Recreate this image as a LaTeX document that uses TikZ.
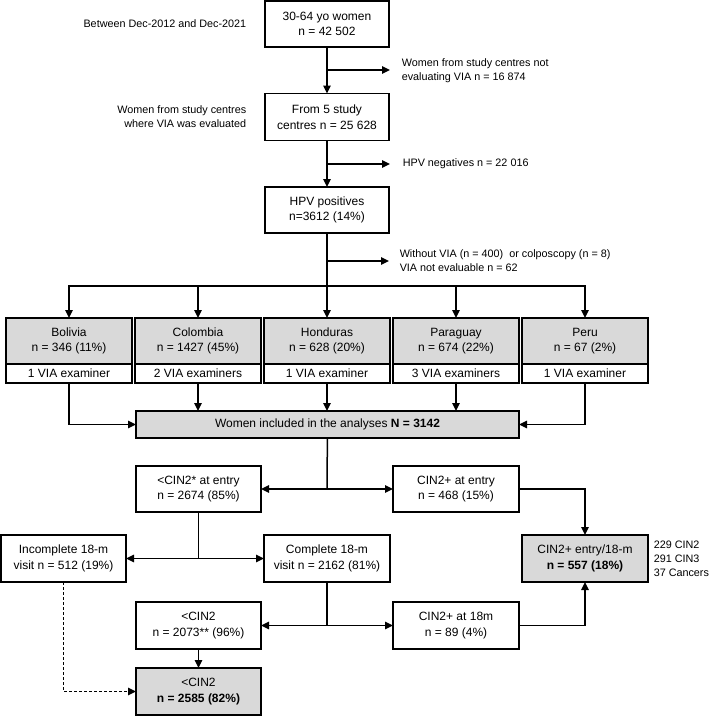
\documentclass[tikz,border=0pt]{standalone}
\usepackage{fontspec}
\setmainfont{Liberation Sans}
\usetikzlibrary{arrows.meta, positioning}

\begin{document}
\begin{tikzpicture}[x=1pt, y=-1pt,
        whitebox/.style={draw, fill=white, minimum width=126pt, minimum height=47pt, align=center, outer sep=0pt, inner sep=2pt, font=\fontsize{12}{15.5}\selectfont},
        greybox/.style={whitebox, fill=gray!30},
        sidetext/.style={font=\fontsize{10.8}{14}\selectfont, inner sep=0pt},
        >={Triangle[length=8pt,width=7.5pt]}, line width=1.5pt]
    \useasboundingbox (0,0) rectangle (709,716);

    % screening steps
    \node[whitebox, minimum width=124pt, minimum height=46pt] (women) at (327,24) {30-64 yo women\\n = 42 502};
    \node[whitebox, minimum width=124pt] (centres) at (327,117) {From 5 study\\centres n = 25 628};
    \node[whitebox, minimum width=124pt, minimum height=46pt] (hpvpos) at (327,210) {HPV positives\\n=3612 (14\%)};

    \node[sidetext, anchor=east, align=right] (period) at (247,24) {Between Dec-2012 and Dec-2021};
    \node[sidetext, anchor=east, align=right] (viacentres) at (247,117) {Women from study centres\\where VIA was evaluated};

    \coordinate (out1) at (390,70);
    \coordinate (out2) at (390,164);
    \coordinate (out3) at (389,261);
    \node[sidetext, anchor=west, align=left] (out1text) at (401,70.5) {Women from study centres not\\evaluating VIA n = 16 874};
    \node[sidetext, anchor=west] (out2text) at (402,164) {HPV negatives n = 22 016};
    \node[sidetext, anchor=west, align=left] (out3text) at (399,260.5) {Without VIA (n = 400)\ \ or colposcopy (n = 8)\\VIA not evaluable n = 62};

    \draw[->] (women) -- (centres);
    \draw[->] (centres) -- (hpvpos);
    \draw[->] (women.south |- out1) -- (out1);
    \draw[->] (centres.south |- out2) -- (out2);
    \draw[->] (hpvpos.south |- out3) -- (out3);

    % countries
    \node[greybox, minimum height=46pt] (bolivia) at (69,341) {Bolivia\\n = 346 (11\%)};
    \node[greybox, minimum height=46pt, right=3pt of bolivia] (colombia) {Colombia\\n = 1427 (45\%)};
    \node[greybox, minimum height=46pt, right=3pt of colombia] (honduras) {Honduras\\n = 628 (20\%)};
    \node[greybox, minimum height=46pt, right=3pt of honduras] (paraguay) {Paraguay\\n = 674 (22\%)};
    \node[greybox, minimum height=46pt, right=3pt of paraguay] (peru) {Peru\\n = 67 (2\%)};
    \node[whitebox, minimum height=19pt, below=0pt of bolivia] (bolivia-ex) {1 VIA examiner};
    \node[whitebox, minimum height=19pt, below=0pt of colombia] (colombia-ex) {2 VIA examiners};
    \node[whitebox, minimum height=19pt, below=0pt of honduras] (honduras-ex) {1 VIA examiner};
    \node[whitebox, minimum height=19pt, below=0pt of paraguay] (paraguay-ex) {3 VIA examiners};
    \node[whitebox, minimum height=19pt, below=0pt of peru] (peru-ex) {1 VIA examiner};

    \coordinate (split) at (327,286);
    \draw (hpvpos) -- (split);
    \foreach \c in {bolivia,colombia,honduras,paraguay,peru}
        \draw[->] (split) -| (\c.north);

    \node[greybox, minimum width=383pt, minimum height=27pt] (included) at (327.5,424.5) {Women included in the analyses \textbf{N = 3142}};

    \draw[->] (bolivia-ex.south) |- (included.west);
    \draw[->] (peru-ex.south) |- (included.east);
    \foreach \c in {colombia,honduras,paraguay}
        \draw[->] (\c-ex.south) -- (\c-ex.south |- included.north);

    % outcomes
    \node[whitebox, minimum width=125pt, minimum height=46pt] (cinentry) at (198.5,489) {<CIN2* at entry\\n = 2674 (85\%)};
    \node[whitebox, minimum height=46pt] (cinplus) at (456,489) {CIN2+ at entry\\n = 468 (15\%)};
    \node[whitebox, minimum width=125pt] (incomplete) at (63.5,558.5) {Incomplete 18-m\\visit n = 512 (19\%)};
    \node[whitebox] (complete) at (327,558.5) {Complete 18-m\\visit n = 2162 (81\%)};
    \node[greybox] (cinall) at (585,558.5) {CIN2+ entry/18-m\\\textbf{n = 557 (18\%)}};
    \node[whitebox, minimum width=125pt] (lowcin) at (198.5,625.5) {<CIN2\\n = 2073** (96\%)};
    \node[whitebox] (cin18) at (456,625.5) {CIN2+ at 18m\\n = 89 (4\%)};
    \node[greybox, minimum width=125pt] (final) at (198.5,691.5) {<CIN2\\\textbf{n = 2585 (82\%)}};
    \node[sidetext, align=left, right=5pt of cinall] (cases) {229 CIN2\\291 CIN3\\37 Cancers};

    \coordinate (split2) at (327,489);
    \coordinate (split3) at (198.5,558.5);
    \coordinate (split4) at (327,625.5);
    \draw (included) -- (split2);
    \draw[->] (split2) -- (cinentry);
    \draw[->] (split2) -- (cinplus);
    \draw (cinentry) -- (split3);
    \draw[->] (split3) -- (incomplete);
    \draw[->] (split3) -- (complete);
    \draw (complete) -- (split4);
    \draw[->] (split4) -- (lowcin);
    \draw[->] (split4) -- (cin18);
    \draw[->] (lowcin) -- (final);
    \draw[->, dash pattern=on 3pt off 2pt] (incomplete.south) |- (final.west);
    \draw[->] (cinplus.east) -| (cinall.north);
    \draw[->] (cin18.east) -| (cinall.south);
\end{tikzpicture}
\end{document}
